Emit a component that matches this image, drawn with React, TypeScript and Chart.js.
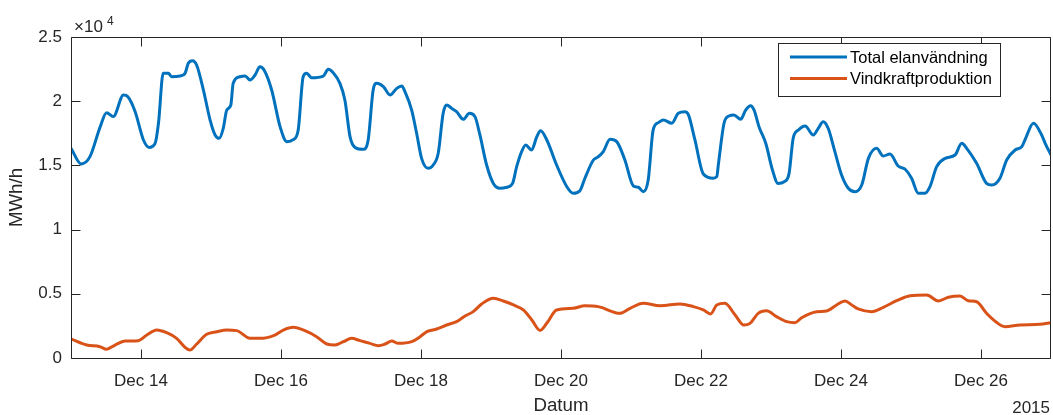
import React, { useEffect, useRef } from "react";
import { Chart, registerables } from "chart.js";

Chart.register(...registerables);

// Hours since 13 Dec 2015 00:00
const totalHours = [
  0, 3.5, 6.5, 10, 12.2, 14.5, 18, 19.5, 22, 24.8, 26.8, 28.8, 30, 31.6, 33.4, 34.5, 37.4, 39.1, 40.2, 41.7,
  43.1, 45.4, 47.7, 49.4, 50.8, 52.2, 53.4, 54.8, 55.6, 57.9, 59.7, 61.4, 63.1, 64.8, 66.2, 68.8, 71.7, 74.0,
  76.2, 77.9, 79.6, 80.8, 82.5, 86.5, 88.2, 89.9, 92.2, 93.9, 95.7, 97.4, 100.2, 101.9, 103.6, 104.8, 107.1,
  109.4, 111.7, 113.4, 114.5, 116.8, 118.5, 120.2, 122.5, 124.2, 125.9, 127.6, 128.8, 130.5, 132.2, 134.5,
  136.6, 138.5, 140.2, 142.5, 144.8, 147.1, 149.4, 151.4, 152.8, 154.5, 155.9, 157.9, 159.7, 161.0, 163.1,
  166.5, 170.0, 172.2, 174.5, 176.2, 179.1, 180.8, 182.5, 184.8, 187.1, 189.9, 192.8, 194.5, 196.2, 197.9,
  199.6, 201.4, 203.1, 206.0, 208.2, 210.5, 211.7, 213.9, 216.8, 220.2, 221.4, 222.0, 223.9, 225.6, 227.3,
  229.6, 231.3, 233.0, 234.2, 235.9, 238.2, 240.5, 242.4, 244.5, 246.2, 247.6, 249.4, 251.7, 254.5, 256.2,
  257.9, 259.6, 261.9, 264.2, 266.5, 268.8, 271.1, 273.4, 276.2, 278.5, 280.8, 283.6, 286.0, 288.2, 290.5,
  292.8, 294.5, 296.8, 299.7, 303.1, 305.4, 307.1, 310.5, 313.9, 315.7, 318.5, 320.8, 323.7, 326.0, 327.1,
  330.0, 332.8, 334.0, 336,
];
const totalValues = [
  16330, 15110, 15680, 18000, 19100, 18800, 20480, 20350, 19180, 17000, 16400, 16700, 18300, 22170, 22170, 21900, 21960, 22170, 22950, 23160,
  22800, 20870, 18530, 17370, 17110, 17890, 19300, 19700, 21390, 21900, 21960, 21650, 22040, 22690, 22430, 20870, 18000, 16850,
  17000, 17760, 21900, 22170, 21830, 21960, 22480, 22220, 21390, 20090, 17200, 16400, 16250, 17000, 20870, 21390, 21130,
  20480, 21000, 21180, 20740, 19300, 17500, 15550, 14770, 15030, 15940, 19060, 19700, 19450, 19180, 18590,
  19060, 18800, 17370, 15030, 13600, 13220, 13300, 13600, 14900, 16070, 16590, 16200, 17230, 17700, 17000,
  15030, 13340, 12830, 13030, 14000, 15420, 15680, 16070, 17030, 16850, 15420, 13400, 13300, 12950, 13860,
  17760, 18330, 18540, 18280, 19060, 19180, 18930, 17000, 14330, 14000, 14120, 15160, 18280, 18850, 18930,
  18590, 19300, 19650, 19300, 18000, 16720, 14640, 13600, 13730, 14380, 17110, 17760, 18070, 17370, 17890,
  18400, 17890, 16070, 14250, 13220, 12950, 13470, 15550, 16330, 15730, 15890, 14950, 14700, 14000, 12830,
  12830, 13340, 14900, 15550, 15810, 16720, 16330, 15160, 13600, 13470, 14000, 15420, 16200, 16460, 17000,
  18280, 17370, 16720, 15810,
];

const windHours = [
  0, 5.4, 9.9, 12.2, 15.1, 18.5, 23.1, 26.0, 29.4, 32.8, 36.2, 39.1, 40.8, 43.1, 46.5, 50.0, 53.4, 56.8, 61.4,
  64.8, 69.9, 72.8, 76.2, 80.2, 84.2, 87.7, 90.5, 93.4, 96.2, 99.1, 102.5, 105.4, 107.7, 110.0, 112.2, 116.8,
  119.7, 122.0, 125.4, 128.8, 132.2, 135.1, 137.9, 140.8, 144.8, 148.2, 151.7, 155.1, 158.0, 160.8, 163.1,
  166.5, 172.2, 176.2, 180.8, 188.2, 191.7, 196.2, 202.0, 208.8, 213.4, 216.8, 219.3, 221.4, 224.2, 227.7,
  230.7, 232.8, 235.6, 238.5, 241.9, 245.4, 248.2, 250.5, 255.7, 259.1, 262.5, 265.4, 267.7, 269.9, 274.5,
  278.5, 283.1, 287.7, 293.4, 297.4, 300.8, 304.8, 307.6, 310.5, 313.9, 317.3, 320.2, 325.4, 332.2, 336,
];
const windValues = [
  1480, 1010, 880, 680, 1010, 1320, 1350, 1790, 2180, 1970, 1530, 830, 620, 1090, 1850, 2050, 2180, 2130, 1530,
  1530, 1790, 2180, 2390, 2130, 1660, 1090, 1010, 1270, 1530, 1350, 1140, 960, 1090, 1320, 1140, 1270,
  1660, 2050, 2260, 2570, 2830, 3270, 3610, 4210, 4650, 4440, 4130, 3740, 2960, 2150, 2700,
  3740, 3870, 4070, 4000, 3480, 3870, 4260, 4070, 4210, 4000, 3740, 3430, 4130, 4260, 3350,
  2570, 2700, 3480, 3680, 3220, 2830, 2750, 3140, 3610, 3660, 4130, 4440, 4130, 3820, 3610,
  3950, 4460, 4850, 4910, 4440, 4730, 4830, 4460, 4380, 3480, 2780, 2440, 2570, 2620, 2750,
];

const seriesNames = ["Total elanvändning", "Vindkraftproduktion"];
const seriesColors = ["#0072BD", "#D95319"];
const xTickHours = [24, 72, 120, 168, 216, 264, 312];
const xTickLabels = ["Dec 14", "Dec 16", "Dec 18", "Dec 20", "Dec 22", "Dec 24", "Dec 26"];
const yTickValues = [0, 5000, 10000, 15000, 20000, 25000];
const yTickLabels = ["0", "0.5", "1", "1.5", "2", "2.5"];
const xAxisTitle = "Datum";
const yAxisTitle = "MWh/h";
const yearLabel = "2015";

const FONT = '"Liberation Sans", Arial, Helvetica, sans-serif';
const AXIS_COLOR = "#262626";

const framePlugin = {
  id: "matlabFrame",
  afterDraw(chart: any) {
    const { ctx, chartArea: a, scales } = chart;
    const xs = scales.x;
    const ys = scales.y;
    ctx.save();
    ctx.strokeStyle = AXIS_COLOR;
    ctx.lineWidth = 1;
    const L = Math.round(a.left) + 0.5;
    const R = Math.round(a.right) - 0.5;
    const T = Math.round(a.top) + 0.5;
    const B = Math.round(a.bottom) + 0.5;
    const TL = 9;
    ctx.beginPath();
    ctx.rect(L, T, R - L, B - T);
    for (const v of xTickHours) {
      const px = Math.round(xs.getPixelForValue(v)) + 0.5;
      ctx.moveTo(px, B);
      ctx.lineTo(px, B - TL);
      ctx.moveTo(px, T);
      ctx.lineTo(px, T + TL);
    }
    for (const v of yTickValues) {
      const py = Math.round(ys.getPixelForValue(v)) + 0.5;
      ctx.moveTo(L, py);
      ctx.lineTo(L + TL, py);
      ctx.moveTo(R, py);
      ctx.lineTo(R - TL, py);
    }
    ctx.stroke();

    // exponent label
    ctx.fillStyle = AXIS_COLOR;
    ctx.textBaseline = "alphabetic";
    ctx.textAlign = "left";
    ctx.font = `17px ${FONT}`;
    ctx.fillText("×10", 74, 32);
    ctx.font = `12px ${FONT}`;
    ctx.fillText("4", 107, 25);

    // year label
    ctx.font = `17px ${FONT}`;
    ctx.textAlign = "right";
    ctx.fillText(yearLabel, 1050, 413);

    // legend
    const lx = 778.5, ly = 43.5, lw = 222, lh = 53;
    ctx.fillStyle = "#ffffff";
    ctx.fillRect(lx, ly, lw, lh);
    ctx.strokeStyle = AXIS_COLOR;
    ctx.lineWidth = 1;
    ctx.strokeRect(lx, ly, lw, lh);
    const rows = [57, 78.5];
    chart.data.datasets.forEach((ds: any, i: number) => {
      ctx.strokeStyle = ds.borderColor;
      ctx.lineWidth = 3;
      ctx.beginPath();
      ctx.moveTo(790, rows[i]);
      ctx.lineTo(847, rows[i]);
      ctx.stroke();
      ctx.fillStyle = "#000000";
      ctx.font = `16.5px ${FONT}`;
      ctx.textAlign = "left";
      ctx.textBaseline = "middle";
      ctx.fillText(ds.label, 850, rows[i] + 1);
    });
    ctx.restore();
  },
};

export default function App() {
  const ref = useRef<HTMLCanvasElement | null>(null);
  useEffect(() => {
    if (!ref.current) return;
    const datasets = [
      {
        label: seriesNames[0],
        data: totalHours.map((h, i) => ({ x: h, y: totalValues[i] })),
        borderColor: seriesColors[0],
        backgroundColor: seriesColors[0],
        borderWidth: 3,
        pointRadius: 0,
        cubicInterpolationMode: "monotone" as const,
      },
      {
        label: seriesNames[1],
        data: windHours.map((h, i) => ({ x: h, y: windValues[i] })),
        borderColor: seriesColors[1],
        backgroundColor: seriesColors[1],
        borderWidth: 3,
        pointRadius: 0,
        cubicInterpolationMode: "monotone" as const,
      },
    ];
    const chart = new Chart(ref.current, {
      type: "line",
      data: { datasets },
      plugins: [framePlugin],
      options: {
        animation: false,
        responsive: false,
        events: [],
        layout: { padding: { left: 0, right: 2, top: 37, bottom: 0 } },
        plugins: { legend: { display: false }, tooltip: { enabled: false } },
        scales: {
          x: {
            type: "linear",
            min: 0,
            max: 336,
            grid: { display: false, drawTicks: false },
            border: { display: false },
            afterBuildTicks: (s: any) => {
              s.ticks = xTickHours.map((v) => ({ value: v }));
            },
            afterFit: (s: any) => {
              s.height = 57;
            },
            ticks: {
              autoSkip: false,
              maxRotation: 0,
              padding: 13,
              color: AXIS_COLOR,
              font: { family: FONT, size: 17 },
              callback: (v: any) => xTickLabels[xTickHours.indexOf(Number(v))],
            },
            title: {
              display: true,
              text: xAxisTitle,
              color: AXIS_COLOR,
              font: { family: FONT, size: 18.7, lineHeight: 1 },
              padding: { top: 0, bottom: 0 },
            },
          },
          y: {
            type: "linear",
            min: 0,
            max: 25000,
            grid: { display: false, drawTicks: false },
            border: { display: false },
            afterBuildTicks: (s: any) => {
              s.ticks = yTickValues.map((v) => ({ value: v }));
            },
            afterFit: (s: any) => {
              s.width = 71;
            },
            ticks: {
              padding: 9,
              color: AXIS_COLOR,
              font: { family: FONT, size: 17 },
              callback: (v: any) => yTickLabels[yTickValues.indexOf(Number(v))],
            },
            title: {
              display: true,
              text: yAxisTitle,
              color: AXIS_COLOR,
              font: { family: FONT, size: 18.7, lineHeight: 1 },
              padding: { top: 8, bottom: 0 },
            },
          },
        },
      },
    });
    return () => chart.destroy();
  }, []);
  return (
    <div style={{ position: "fixed", left: 0, top: 0, width: 1053, height: 415, background: "#fff" }}>
      <canvas ref={ref} width={1053} height={415} style={{ width: 1053, height: 415, display: "block" }} />
    </div>
  );
}
